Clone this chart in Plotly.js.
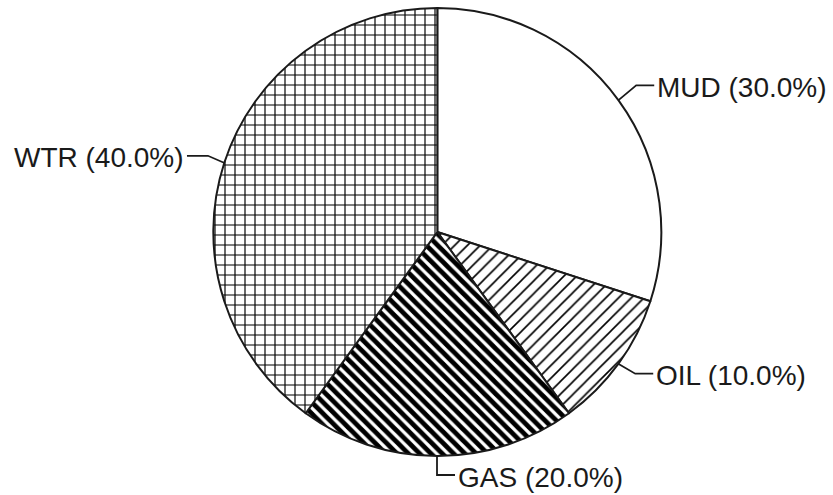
<!DOCTYPE html>
<html>
<head>
<meta charset="utf-8">
<script src="https://cdn.plot.ly/plotly-3.0.1.min.js"></script>
<style>html,body{margin:0;padding:0;background:#fff;}#chart{width:833px;height:495px;}</style>
</head>
<body>
<div id="chart"></div>
<script>
// Data
var labels = ["MUD", "OIL", "GAS", "WTR"];
var values = [30, 10, 20, 40];
var percentLabels = ["30.0%", "10.0%", "20.0%", "40.0%"];

// Styles
var patternShapes = ["", "/", "\\", "+"];
var patternSizes = [8, 9, 8, 10];
var patternSolidity = [0.1, 0.18, 0.6, 0.22];

var W = 833, H = 495;
var cx = 437, cy = 232, R = 224;

// leader-line geometry (pixel offsets): elbow and end of horizontal run
var leaders = [
  {elbow: [18, -15], run: 18, side: 1},
  {elbow: [17, 10], run: 18, side: 1},
  {elbow: [0, 19], run: 18, side: 1},
  {elbow: [-16, -7], run: -21, side: -1}
];

var total = values.reduce(function(a, b){ return a + b; }, 0);
var shapes = [], annotations = [];
var cum = 0;
function px(x){ return x / W; }
function py(y){ return 1 - y / H; }
for (var i = 0; i < values.length; i++) {
  var mid = (cum + values[i] / 2) / total * 2 * Math.PI;
  cum += values[i];
  var ex = cx + R * Math.sin(mid), ey = cy - R * Math.cos(mid);
  var L = leaders[i];
  var bx = ex + L.elbow[0], by = ey + L.elbow[1];
  var tx = bx + L.run, ty = by;
  shapes.push({
    type: "path", xref: "paper", yref: "paper",
    path: "M" + px(ex) + "," + py(ey) + " L" + px(bx) + "," + py(by) + " L" + px(tx) + "," + py(ty),
    line: {color: "#1a1a1a", width: 1.8}
  });
  annotations.push({
    xref: "paper", yref: "paper",
    x: px(tx + L.side * 1), y: py(ty + 2),
    xanchor: L.side > 0 ? "left" : "right", yanchor: "middle",
    text: labels[i] + " (" + percentLabels[i] + ")",
    showarrow: false,
    font: {family: "Liberation Sans, Arial, sans-serif", size: 28, color: "#1a1a1a"}
  });
}

var trace = {
  type: "pie",
  labels: labels,
  values: values,
  sort: false,
  direction: "clockwise",
  rotation: 0,
  textinfo: "none",
  hoverinfo: "label+percent",
  domain: {x: [0.05, 1.0], y: [(H - 456) / H, (H - 8) / H]},
  marker: {
    colors: ["#fff", "#fff", "#fff", "#fff"],
    line: {color: "#1a1a1a", width: 2},
    pattern: {
      shape: patternShapes,
      size: patternSizes,
      solidity: patternSolidity,
      fgcolor: "#000",
      fgopacity: 1,
      bgcolor: "#fff",
      fillmode: "replace"
    }
  }
};

var layout = {
  width: W, height: H,
  margin: {l: 0, r: 0, t: 0, b: 0},
  paper_bgcolor: "#fff",
  showlegend: false,
  shapes: shapes,
  annotations: annotations
};

Plotly.newPlot("chart", [trace], layout, {displayModeBar: false, staticPlot: true});
</script>
</body>
</html>
